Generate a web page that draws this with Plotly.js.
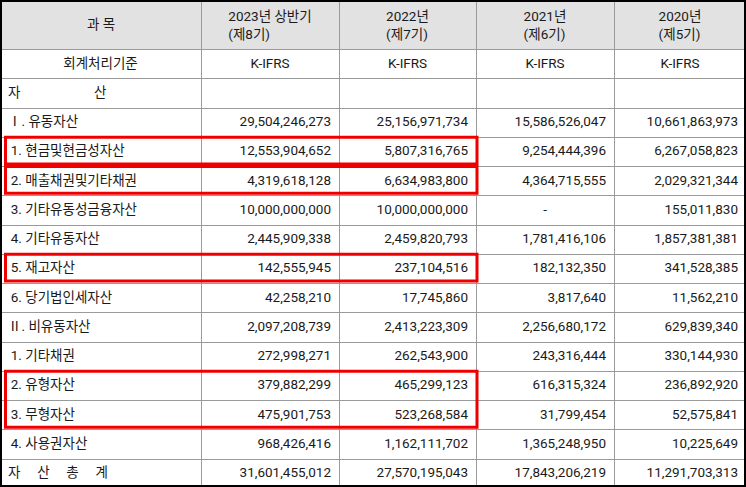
<!DOCTYPE html>
<html>
<head>
<meta charset="utf-8">
<script src="https://cdn.plot.ly/plotly-3.0.1.min.js"></script>
<style>html,body{margin:0;padding:0;background:#fff;}#chart{width:746px;height:487px;}</style>
</head>
<body>
<div id="chart"></div>
<script>
var headers = ["과 목", "2023년 상반기<br>(제8기)", "2022년<br>(제7기)", "2021년<br>(제6기)", "2020년<br>(제5기)"];
function sp(n) { return new Array(n + 1).join('\u00a0'); }
var ind = '\u2009';
var items = ["회계처리기준", "자" + sp(22) + "산", "Ⅰ. 유동자산", ind + "1. 현금및현금성자산", ind + "2. 매출채권및기타채권", ind + "3. 기타유동성금융자산", ind + "4. 기타유동자산", ind + "5. 재고자산", ind + "6. 당기법인세자산", "Ⅱ. 비유동자산", ind + "1. 기타채권", ind + "2. 유형자산", ind + "3. 무형자산", ind + "4. 사용권자산", "자" + sp(5) + "산" + sp(5) + "총" + sp(5) + "계"];
var y2023h1 = ["K-IFRS", "", "29,504,246,273", "12,553,904,652", "4,319,618,128", "10,000,000,000", "2,445,909,338", "142,555,945", "42,258,210", "2,097,208,739", "272,998,271", "379,882,299", "475,901,753", "968,426,416", "31,601,455,012"];
var y2022 = ["K-IFRS", "", "25,156,971,734", "5,807,316,765", "6,634,983,800", "10,000,000,000", "2,459,820,793", "237,104,516", "17,745,860", "2,413,223,309", "262,543,900", "465,299,123", "523,268,584", "1,162,111,702", "27,570,195,043"];
var y2021 = ["K-IFRS", "", "15,586,526,047", "9,254,444,396", "4,364,715,555", "-", "1,781,416,106", "182,132,350", "3,817,640", "2,256,680,172", "243,316,444", "616,315,324", "31,799,454", "1,365,248,950", "17,843,206,219"];
var y2020 = ["K-IFRS", "", "10,661,863,973", "6,267,058,823", "2,029,321,344", "155,011,830", "1,857,381,381", "341,528,385", "11,562,210", "629,839,340", "330,144,930", "236,892,920", "52,575,841", "10,225,649", "11,291,703,313"];
// rows highlighted with red boxes (groups of consecutive row indices)
var highlightGroups = [[3], [4], [7], [11, 12]];

var W = 746, H = 487, headH = 48, rowH = 29.25;
var colW = [201, 138, 137, 138, 132];

function alignCol(col, first) {
  return col.map(function (v, i) {
    if (i === 0) return 'center';
    if (v === '-') return 'center';
    return first ? 'left' : 'right';
  });
}
var columns = [items, y2023h1, y2022, y2021, y2020];
var aligns = columns.map(function (c, k) { return alignCol(c, k === 0); });
var fontFam = 'Roboto, Noto Sans CJK KR, sans-serif';
// first header cell is a single line, vertically centred via an annotation
var headerVals = headers.map(function (h, i) { return i === 0 ? '' : h; });

var data = [{
  type: 'table',
  domain: {x: [0, 1], y: [0, 1]},
  columnwidth: colW,
  header: {
    values: headerVals,
    align: 'center',
    height: headH,
    fill: {color: '#e2e2e2'},
    line: {color: '#9a9a9a', width: 1},
    font: {family: fontFam, size: 13.5, color: '#1a1a1a'}
  },
  cells: {
    values: columns,
    align: aligns,
    height: rowH,
    fill: {color: '#ffffff'},
    line: {color: '#9a9a9a', width: 1},
    font: {family: fontFam, size: 13.5, color: '#1a1a1a'}
  }
}];

var shapes = [{
  type: 'rect', xref: 'paper', yref: 'paper', x0: 1 / W, x1: 1 - 1 / W, y0: 1 / H, y1: 1 - 1 / H,
  line: {color: '#000', width: 2}
}];
var boxRight = colW[0] + colW[1] + colW[2];
highlightGroups.forEach(function (g) {
  var top = headH + g[0] * rowH + 1.5;
  var bot = headH + (g[g.length - 1] + 1) * rowH - 1;
  shapes.push({
    type: 'rect', xref: 'paper', yref: 'paper',
    x0: 5.5 / W, x1: (boxRight + 1) / W,
    y0: 1 - bot / H, y1: 1 - top / H,
    line: {color: '#ee0000', width: 3}
  });
});

var layout = {
  width: W, height: H,
  margin: {l: 0, r: 0, t: 0, b: 0, pad: 0},
  paper_bgcolor: '#ffffff',
  shapes: shapes,
  annotations: [{
    text: headers[0], xref: 'paper', yref: 'paper',
    x: (colW[0] / 2) / W, y: 1 - (headH / 2) / H, xanchor: 'center', yanchor: 'middle',
    showarrow: false, font: {family: fontFam, size: 13.5, color: '#1a1a1a'}
  }]
};
Plotly.newPlot('chart', data, layout, {displayModeBar: false, staticPlot: true});
</script>
</body>
</html>
